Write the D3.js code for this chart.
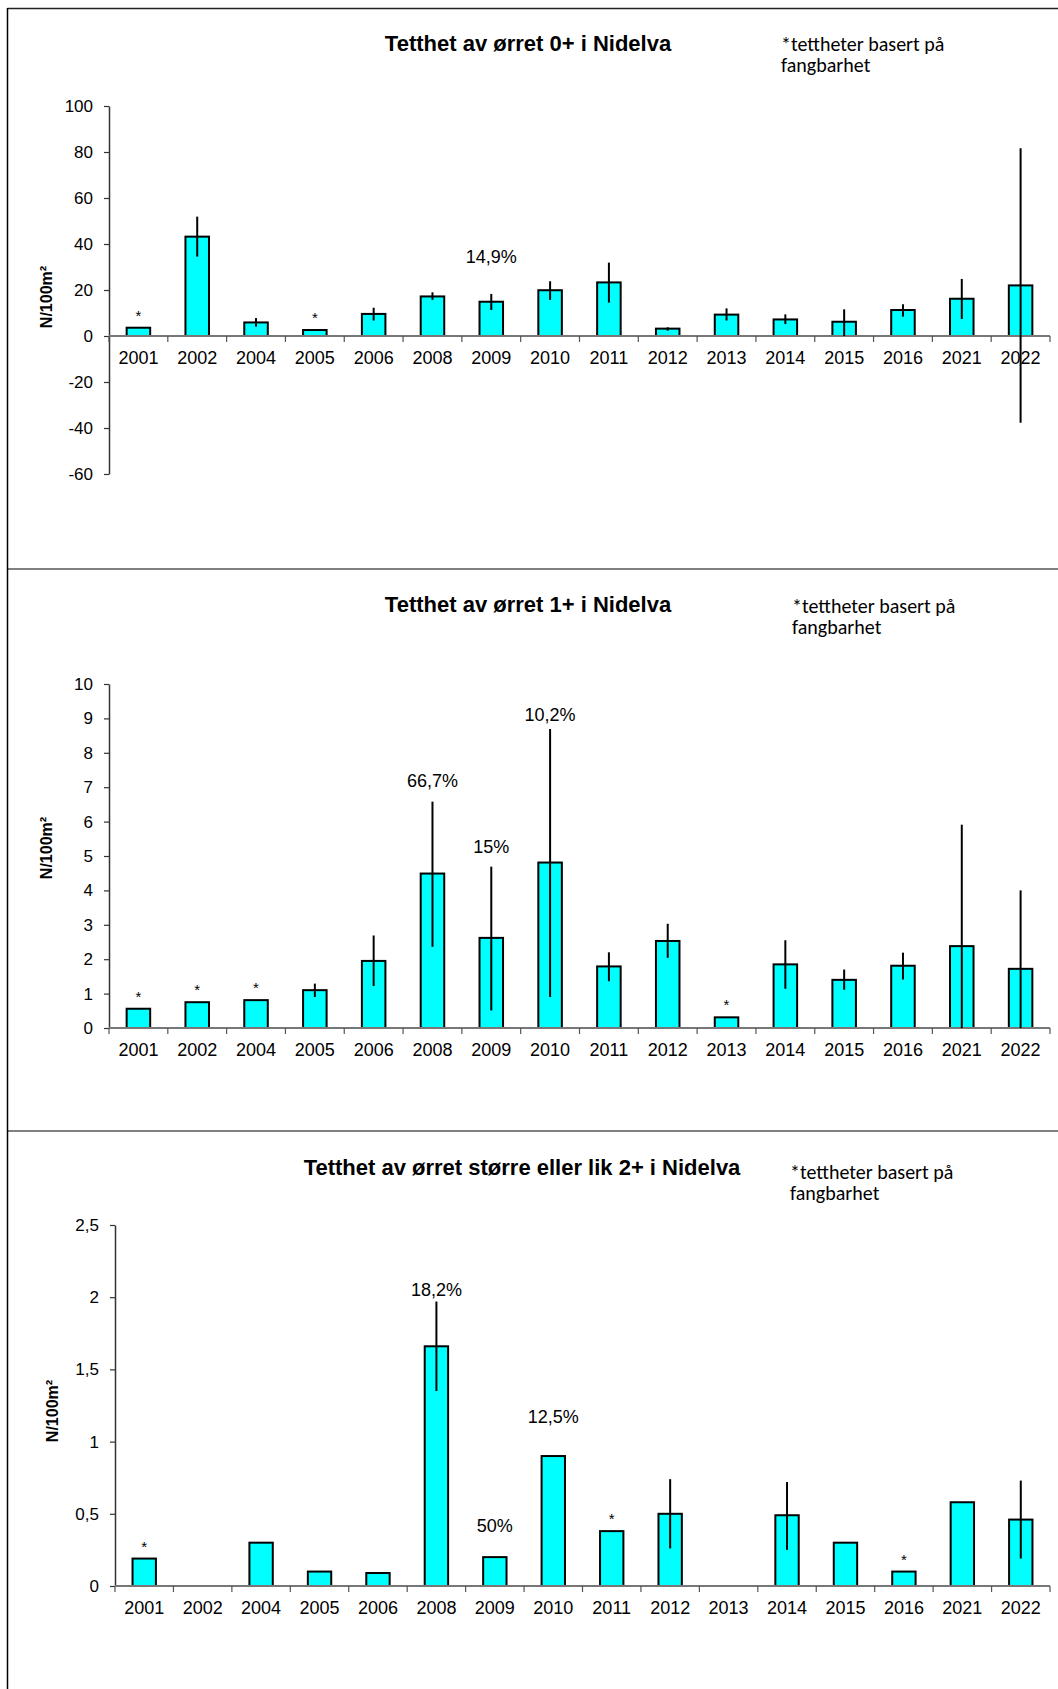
<!DOCTYPE html>
<html>
<head>
<meta charset="utf-8">
<script src="https://cdn.jsdelivr.net/npm/d3@7"></script>
<style>
  body { margin: 0; background: #fff; }
  text { font-family: Arial, "Liberation Sans", sans-serif; }
  .note { font-family: Carlito, Lato, "Open Sans", sans-serif; }
</style>
</head>
<body>
<div id="root"></div>
<script>
// år (samme for alle tre figurer)
const years = ["2001", "2002", "2004", "2005", "2006", "2008", "2009", "2010",
    "2011", "2012", "2013", "2014", "2015", "2016", "2021", "2022"];

// 0+
const dens0 = [3.6, 43.2, 5.9, 2.6, 9.6, 17.2, 14.9, 19.9, 23.3, 3.2, 9.3, 7.2, 6.2, 11.3, 16.2, 22.0];
const hi0 = [null, 51.9, 7.8, null, 12.3, 19.0, 18.3, 23.8, 31.9, 3.8, 12.0, 9.4, 11.6, 13.8, 24.8, 81.6];
const lo0 = [null, 34.5, 4.1, null, 6.7, 15.7, 11.3, 15.7, 14.5, 2.3, 6.7, 5.2, 0, 8.4, 7.4, -37.7];
const stars0 = ["2001", "2005"];
const pctYears0 = ["2009"];
const pctText0 = ["14,9%"];
const pctAt0 = [34.5];
const yTicks0 = [-60, -40, -20, 0, 20, 40, 60, 80, 100];

// 1+
const dens1 = [0.56, 0.75, 0.81, 1.10, 1.95, 4.49, 2.62, 4.81, 1.79, 2.53, 0.31, 1.85, 1.40, 1.81, 2.38, 1.72];
const hi1 = [null, null, null, 1.29, 2.69, 6.58, 4.69, 8.69, 2.20, 3.03, null, 2.55, 1.70, 2.19, 5.91, 4.00];
const lo1 = [null, null, null, 0.90, 1.22, 2.36, 0.51, 0.90, 1.36, 2.04, null, 1.14, 1.11, 1.41, 0, 0];
const stars1 = ["2001", "2002", "2004", "2013"];
const pctYears1 = ["2008", "2009", "2010"];
const pctText1 = ["66,7%", "15%", "10,2%"];
const pctAt1 = [7.2, 5.27, 9.1];
const yTicks1 = [0, 1, 2, 3, 4, 5, 6, 7, 8, 9, 10];

// >= 2+
const dens2 = [0.19, null, 0.30, 0.10, 0.09, 1.66, 0.20, 0.90, 0.38, 0.50, null, 0.49, 0.30, 0.10, 0.58, 0.46];
const hi2 = [null, null, null, null, null, 1.97, null, null, null, 0.74, null, 0.72, null, null, null, 0.73];
const lo2 = [null, null, null, null, null, 1.35, null, null, null, 0.26, null, 0.25, null, null, null, 0.19];
const stars2 = ["2001", "2011", "2016"];
const pctYears2 = ["2008", "2009", "2010"];
const pctText2 = ["18,2%", "50%", "12,5%"];
const pctAt2 = [2.05, 0.42, 1.17];
const yTicks2 = [0, 0.5, 1, 1.5, 2, 2.5];

const titles = [
    "Tetthet av ørret 0+ i Nidelva",
    "Tetthet av ørret 1+ i Nidelva",
    "Tetthet av ørret større eller lik 2+ i Nidelva"
];
const noteLines = ["*tettheter basert på", "fangbarhet"];

const W = 1058, H = 1689;

const svg = d3.select("#root")
    .append("svg")
    .attr("width", W)
    .attr("height", H);

// paneler / rammer
svg.append("line")
    .attr("x1", 7.5).attr("x2", W).attr("y1", 8.5).attr("y2", 8.5)
    .attr("stroke", "#222").attr("stroke-width", 1.5);
[569, 1131].forEach(y => {
    svg.append("line")
        .attr("x1", 7.5).attr("x2", W).attr("y1", y).attr("y2", y)
        .attr("stroke", "#808080").attr("stroke-width", 2);
});
svg.append("line")
    .attr("x1", 7.5).attr("x2", 7.5).attr("y1", 8).attr("y2", H)
    .attr("stroke", "#000").attr("stroke-width", 1.5);

const fmt = d => String(d).replace(".", ",");

function drawChart(c) {
    const data = years.map((y, i) => ({ year: y, v: c.dens[i], hi: c.hi[i], lo: c.lo[i] }));

    const x = d3.scaleBand()
        .domain(years)
        .range([c.left, c.right])
        .paddingInner(0.6)
        .paddingOuter(0.3);

    const y = d3.scaleLinear()
        .domain(c.domain)
        .range([c.bottom, c.top]);

    const g = svg.append("g");

    // tittel
    g.append("text")
        .attr("x", c.titleX)
        .attr("y", c.titleY)
        .attr("text-anchor", "middle")
        .attr("font-weight", "bold")
        .attr("font-size", "22px")
        .text(c.title);

    // merknad
    noteLines.forEach((t, k) => {
        g.append("text")
            .attr("class", "note")
            .attr("x", c.noteX)
            .attr("y", c.noteY + k * 21)
            .attr("font-size", "20px")
            .text(t);
    });

    // y-akse
    const yAxis = g.append("g")
        .attr("transform", `translate(${c.left},0)`)
        .call(d3.axisLeft(y).tickValues(c.yTicks).tickFormat(fmt).tickSize(5).tickPadding(11).tickSizeOuter(0));
    yAxis.select(".domain").attr("stroke", "#333").attr("stroke-width", 1.5);
    yAxis.selectAll(".tick line").attr("stroke", "#333").attr("stroke-width", 1.2);
    yAxis.selectAll(".tick text").attr("font-size", "17px").attr("fill", "#000")
        .style("font-family", "Arial, 'Liberation Sans', sans-serif");

    // aksetittel
    g.append("text")
        .attr("transform", `translate(${c.left - 57},${c.labelY}) rotate(-90)`)
        .attr("text-anchor", "middle")
        .attr("font-weight", "bold")
        .attr("font-size", "16px")
        .text("N/100m²");

    // søyler
    g.selectAll("rect.bar")
        .data(data.filter(d => d.v != null))
        .enter()
        .append("rect")
        .attr("class", "bar")
        .attr("x", d => x(d.year))
        .attr("y", d => y(d.v))
        .attr("width", x.bandwidth())
        .attr("height", d => y(0) - y(d.v))
        .attr("fill", "#00ffff")
        .attr("stroke", "#000")
        .attr("stroke-width", 2);

    // x-akse (nullinje)
    const y0 = y(0);
    g.append("line")
        .attr("x1", c.left).attr("x2", c.right)
        .attr("y1", y0).attr("y2", y0)
        .attr("stroke", "#777").attr("stroke-width", 2);

    const step = x.step();
    const bounds = years.map(d => x(d) - step * 0.3).concat([c.right]);
    g.selectAll("line.xtick")
        .data(bounds)
        .enter()
        .append("line")
        .attr("class", "xtick")
        .attr("x1", d => d).attr("x2", d => d)
        .attr("y1", y0).attr("y2", y0 + 6)
        .attr("stroke", "#555").attr("stroke-width", 1.2);

    const xAxis = g.append("g")
        .attr("transform", `translate(0,${y0})`)
        .call(d3.axisBottom(x).tickSize(0).tickPadding(15));
    xAxis.select(".domain").remove();
    xAxis.selectAll(".tick text").attr("font-size", "18px").attr("fill", "#000")
        .style("font-family", "Arial, 'Liberation Sans', sans-serif");

    // feilstolper
    g.selectAll("line.err")
        .data(data.filter(d => d.hi != null))
        .enter()
        .append("line")
        .attr("class", "err")
        .attr("x1", d => x(d.year) + x.bandwidth() / 2)
        .attr("x2", d => x(d.year) + x.bandwidth() / 2)
        .attr("y1", d => y(d.hi))
        .attr("y2", d => y(d.lo))
        .attr("stroke", "#000")
        .attr("stroke-width", 2);

    // stjerner
    g.selectAll("text.star")
        .data(data.filter(d => c.stars.includes(d.year)))
        .enter()
        .append("text")
        .attr("class", "star")
        .attr("x", d => x(d.year) + x.bandwidth() / 2)
        .attr("y", d => y(d.v) - 7)
        .attr("text-anchor", "middle")
        .attr("font-size", "15px")
        .text("*");

    // prosentetiketter
    g.selectAll("text.pct")
        .data(c.pctYears)
        .enter()
        .append("text")
        .attr("class", "pct")
        .attr("x", d => x(d) + x.bandwidth() / 2)
        .attr("y", (d, i) => y(c.pctAt[i]))
        .attr("dy", "0.35em")
        .attr("text-anchor", "middle")
        .attr("font-size", "18px")
        .text((d, i) => c.pctText[i]);
}

drawChart({
    title: titles[0], titleX: 528, titleY: 51, noteX: 781, noteY: 51,
    left: 109, right: 1050, top: 106, bottom: 474, domain: [-60, 100], yTicks: yTicks0, labelY: 297,
    dens: dens0, hi: hi0, lo: lo0, stars: stars0,
    pctYears: pctYears0, pctText: pctText0, pctAt: pctAt0
});

drawChart({
    title: titles[1], titleX: 528, titleY: 612, noteX: 792, noteY: 613,
    left: 109, right: 1050, top: 684, bottom: 1028, domain: [0, 10], yTicks: yTicks1, labelY: 848,
    dens: dens1, hi: hi1, lo: lo1, stars: stars1,
    pctYears: pctYears1, pctText: pctText1, pctAt: pctAt1
});

drawChart({
    title: titles[2], titleX: 522, titleY: 1175, noteX: 790, noteY: 1179,
    left: 115, right: 1050, top: 1225, bottom: 1586, domain: [0, 2.5], yTicks: yTicks2, labelY: 1411,
    dens: dens2, hi: hi2, lo: lo2, stars: stars2,
    pctYears: pctYears2, pctText: pctText2, pctAt: pctAt2
});
</script>
</body>
</html>
